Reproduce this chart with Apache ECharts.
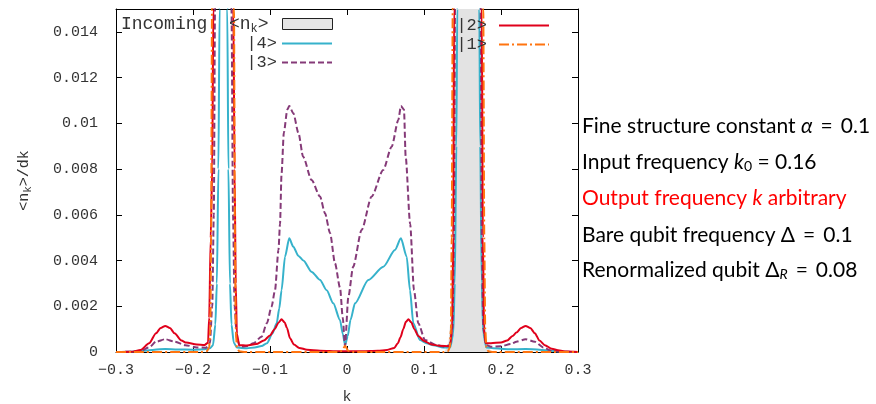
<!DOCTYPE html>
<html>
<head>
<meta charset="utf-8">
<script src="https://cdn.jsdelivr.net/npm/echarts@6/dist/echarts.min.js"></script>
<style>
  html, body { margin: 0; padding: 0; background: #fff; }
  #main { width: 876px; height: 404px; }
</style>
</head>
<body>
<div id="main"></div>
<script>
// [k, <n_k>/dk] pairs (peaks go off the top and get clipped)
var incoming = [
  [-0.3, 0], [0.126, 0], [0.131, 0.0003], [0.135, 0.0015], [0.138, 0.006], [0.141, 0.015],
  [0.144, 0.04], [0.150, 0.07], [0.157, 0.08], [0.164, 0.07], [0.170, 0.04], [0.173, 0.015],
  [0.176, 0.006], [0.179, 0.0015], [0.183, 0.0003], [0.188, 0], [0.3, 0]
];

var state4 = [
  [-0.3, 0], [-0.28, 0.00001], [-0.265, 0.00005], [-0.25, 0.0001], [-0.236, 0.00013], [-0.22, 0.00011],
  [-0.2, 0.0001], [-0.185, 0.00012], [-0.178, 0.00016], [-0.174, 0.0003], [-0.171, 0.0012], [-0.169, 0.003],
  [-0.167, 0.008], [-0.1655, 0.015], [-0.164, 0.025], [-0.161, 0.04], [-0.157, 0.025], [-0.1555, 0.015],
  [-0.154, 0.008], [-0.152, 0.003], [-0.150, 0.0012], [-0.147, 0.0004], [-0.143, 0.0002], [-0.13, 0.00016],
  [-0.12, 0.0002], [-0.111, 0.00026], [-0.104, 0.00038], [-0.097, 0.0008], [-0.0913, 0.00126], [-0.088, 0.0019],
  [-0.085, 0.0027], [-0.0805, 0.00417], [-0.075, 0.00497], [-0.0697, 0.0046], [-0.063, 0.0042], [-0.0567, 0.004],
  [-0.0458, 0.0035], [-0.035, 0.00315], [-0.0264, 0.0027], [-0.0178, 0.00213], [-0.0091, 0.0014], [-0.0055, 0.0008],
  [-0.0025, 0.0003], [0.001, 0.0007], [0.0045, 0.0014], [0.0104, 0.00213], [0.0277, 0.00315], [0.0472, 0.00373],
  [0.0623, 0.00446], [0.070, 0.00497], [0.0775, 0.00417], [0.0818, 0.0027], [0.0861, 0.00126], [0.0948, 0.00052],
  [0.1035, 0.00038], [0.1121, 0.0003], [0.125, 0.0002], [0.134, 0.0002], [0.138, 0.0008], [0.140, 0.003],
  [0.142, 0.009], [0.1432, 0.015], [0.146, 0.03], [0.157, 0.05], [0.168, 0.03], [0.1718, 0.015],
  [0.173, 0.009], [0.175, 0.003], [0.177, 0.0008], [0.181, 0.0002], [0.19, 0.00016], [0.21, 0.00012],
  [0.232, 0.00013], [0.25, 0.0001], [0.265, 0.00005], [0.28, 0.00001], [0.3, 0]
];

var state3 = [
  [-0.3, 0], [-0.28, 0.00001], [-0.268, 0.00005], [-0.257, 0.0002], [-0.248, 0.00045], [-0.236, 0.00056],
  [-0.224, 0.00045], [-0.21, 0.0003], [-0.195, 0.0002], [-0.183, 0.00019], [-0.178, 0.0004], [-0.175, 0.002],
  [-0.173, 0.006], [-0.1714, 0.015], [-0.168, 0.03], [-0.161, 0.05], [-0.154, 0.03], [-0.150, 0.015],
  [-0.148, 0.006], [-0.146, 0.002], [-0.143, 0.0006], [-0.139, 0.00023], [-0.13, 0.00026], [-0.1216, 0.00038],
  [-0.111, 0.00067], [-0.104, 0.00126], [-0.098, 0.00198], [-0.0935, 0.0027], [-0.089, 0.00446], [-0.087, 0.0056],
  [-0.085, 0.0078], [-0.082, 0.0096], [-0.0775, 0.0106], [-0.075, 0.01076], [-0.0697, 0.01044], [-0.063, 0.00957],
  [-0.057, 0.00854], [-0.046, 0.00752], [-0.035, 0.0068], [-0.0286, 0.00607], [-0.022, 0.0052], [-0.0156, 0.00388],
  [-0.009, 0.0028], [-0.0055, 0.0015], [-0.0026, 0.00025], [0.0017, 0.0024], [0.008, 0.00373], [0.019, 0.00534],
  [0.032, 0.0068], [0.047, 0.00796], [0.058, 0.00898], [0.0667, 0.01015], [0.070, 0.01076], [0.074, 0.0106],
  [0.0762, 0.00854], [0.082, 0.0056], [0.087, 0.0027], [0.0926, 0.00126], [0.1013, 0.00052], [0.1165, 0.0003],
  [0.127, 0.00023], [0.133, 0.0003], [0.137, 0.001], [0.139, 0.005], [0.1403, 0.015], [0.143, 0.03],
  [0.157, 0.05], [0.171, 0.03], [0.1736, 0.015], [0.175, 0.005], [0.177, 0.001], [0.181, 0.0003],
  [0.187, 0.00023], [0.2, 0.00025], [0.213, 0.00035], [0.22, 0.00045], [0.232, 0.00056], [0.244, 0.00045],
  [0.255, 0.0002], [0.265, 0.00006], [0.28, 0.00001], [0.3, 0]
];

var state2 = [
  [-0.3, 0], [-0.28, 0.00001], [-0.268, 0.00009], [-0.257, 0.00038], [-0.248, 0.00082], [-0.242, 0.00105],
  [-0.236, 0.00114], [-0.23, 0.00105], [-0.224, 0.00082], [-0.215, 0.0005], [-0.209, 0.00041], [-0.195, 0.00033],
  [-0.185, 0.00031], [-0.1805, 0.0004], [-0.179, 0.0015], [-0.177, 0.005], [-0.175, 0.0081], [-0.1736, 0.015],
  [-0.17, 0.03], [-0.161, 0.05], [-0.152, 0.03], [-0.1476, 0.015], [-0.146, 0.008], [-0.1445, 0.003],
  [-0.143, 0.0008], [-0.14, 0.0003], [-0.13, 0.00028], [-0.118, 0.00035], [-0.108, 0.0005], [-0.1, 0.00072],
  [-0.094, 0.001], [-0.089, 0.00128], [-0.085, 0.00143], [-0.081, 0.0013], [-0.078, 0.00105], [-0.074, 0.0006],
  [-0.069, 0.00033], [-0.062, 0.00018], [-0.052, 0.0001], [-0.035, 0.00006], [-0.01, 0.00003], [0.02, 0.00003],
  [0.04, 0.00005], [0.052, 0.00009], [0.0615, 0.00018], [0.066, 0.00038], [0.0695, 0.00065], [0.073, 0.001],
  [0.0765, 0.00132], [0.0797, 0.00143], [0.0835, 0.0013], [0.0875, 0.001], [0.0926, 0.0007], [0.1, 0.00048],
  [0.11, 0.00033], [0.12, 0.00027], [0.1338, 0.00025], [0.1365, 0.001], [0.138, 0.005], [0.139, 0.015],
  [0.143, 0.03], [0.157, 0.05], [0.171, 0.03], [0.175, 0.015], [0.1765, 0.005], [0.178, 0.001],
  [0.18, 0.00038], [0.187, 0.00038], [0.2, 0.00042], [0.208, 0.0005], [0.215, 0.0007], [0.22, 0.00085],
  [0.226, 0.00105], [0.232, 0.00114], [0.238, 0.00105], [0.244, 0.00082], [0.25, 0.0005], [0.257, 0.0003],
  [0.266, 0.00014], [0.274, 0.00008], [0.285, 0.00002], [0.3, 0]
];

var state1 = [
  [-0.3, 0], [-0.19, 0], [-0.182, 0.00003], [-0.179, 0.0002], [-0.1775, 0.001], [-0.1765, 0.005],
  [-0.1753, 0.015], [-0.171, 0.03], [-0.161, 0.05], [-0.151, 0.03], [-0.1468, 0.015], [-0.1455, 0.005],
  [-0.1445, 0.001], [-0.143, 0.0002], [-0.14, 0.00003], [-0.132, 0], [-0.011, 0], [-0.0065, 0.00006],
  [-0.0025, 0.00027], [0.0015, 0.00006], [0.006, 0], [0.125, 0], [0.131, 0.00003], [0.1335, 0.0002],
  [0.135, 0.001], [0.136, 0.005], [0.1373, 0.015], [0.141, 0.03], [0.157, 0.05], [0.173, 0.03],
  [0.177, 0.015], [0.1783, 0.005], [0.1795, 0.001], [0.181, 0.0002], [0.1835, 0.00003], [0.19, 0], [0.3, 0]
];

var notes = [
  'Fine structure constant {i|α} \u2009=\u2009 0.1',
  'Input frequency {i|k}{s|0} = 0.16',
  '{r|Output frequency }{ri|k}{r| arbitrary}',
  'Bare qubit frequency Δ \u2009=\u2009 0.1',
  'Renormalized qubit Δ{si|R} \u2009=\u2009 0.08'
];
var noteY = [126, 162, 198, 235, 270];

var mono = 'Liberation Mono';
var sans = 'Lato';

var chart = echarts.init(document.getElementById('main'));

function curve(name, data, color, dash) {
  return {
    name: name,
    type: 'line',
    data: data,
    symbol: 'none',
    smooth: 0.25,
    smoothMonotone: 'x',
    clip: true,
    lineStyle: { color: color, width: 2, type: dash || 'solid' },
    itemStyle: { color: color }
  };
}

function legendBox(name, right, top, gap, size) {
  return {
    data: [name],
    right: right,
    top: top,
    align: 'right',
    padding: 0,
    itemWidth: 50,
    itemHeight: 11,
    selectedMode: false,
    itemStyle: { opacity: 0 },
    formatter: function (n) {
      return n === 'Incoming' ? 'Incoming  <n{sub|k}>' : n;
    },
    textStyle: {
      fontFamily: mono,
      fontSize: size || 17,
      color: '#333',
      padding: [0, gap, 0, 0],
      rich: { sub: { fontFamily: mono, fontSize: 12, color: '#333', padding: [9, 0, 0, 0] } }
    }
  };
}

var richNote = {
  i: { fontFamily: sans, fontSize: 21, fontStyle: 'italic', fill: '#000' },
  s: { fontFamily: sans, fontSize: 14, padding: [9, 0, 0, 0], fill: '#000' },
  si: { fontFamily: sans, fontSize: 14, fontStyle: 'italic', padding: [9, 0, 0, 0], fill: '#000' },
  r: { fontFamily: sans, fontSize: 21, fill: '#ff0000' },
  ri: { fontFamily: sans, fontSize: 21, fontStyle: 'italic', fill: '#ff0000' }
};

var option = {
  animation: false,
  backgroundColor: '#fff',
  grid: { left: 116, right: 298, top: 9, bottom: 52, outerBoundsMode: 'none' },
  legend: [
    legendBox('Incoming', 543, 15, 9, 18),
    legendBox('|4>', 543, 35, 0),
    legendBox('|3>', 543, 54, 0),
    legendBox('|2>', 326, 17, 7),
    legendBox('|1>', 326, 36, 7)
  ],
  xAxis: [{
    type: 'value', min: -0.3, max: 0.3, interval: 0.1,
    name: 'k', nameLocation: 'middle', nameGap: 38,
    nameTextStyle: { fontFamily: mono, fontSize: 15, color: '#333' },
    axisLine: { onZero: false, lineStyle: { color: '#000', width: 1 } },
    axisTick: { inside: true, length: 6, lineStyle: { color: '#000' } },
    splitLine: { show: false },
    axisLabel: {
      margin: 11, fontFamily: mono, fontSize: 15, color: '#333',
      formatter: function (v) {
        if (Math.abs(v) < 1e-9) return '0';
        return (v < 0 ? '\u2212' : '') + Math.abs(v).toFixed(1);
      }
    }
  }, {
    type: 'value', position: 'top', min: -0.3, max: 0.3, interval: 0.1,
    axisLine: { onZero: false, lineStyle: { color: '#000', width: 1 } },
    axisTick: { inside: true, length: 6, lineStyle: { color: '#000' } },
    axisLabel: { show: false },
    splitLine: { show: false }
  }],
  yAxis: [{
    type: 'value', min: 0, max: 0.015, interval: 0.002,
    name: '<n{sub|k}>/dk', nameLocation: 'middle', nameGap: 82, nameRotate: 90,
    nameTextStyle: {
      fontFamily: mono, fontSize: 15, color: '#333',
      rich: { sub: { fontFamily: mono, fontSize: 11, color: '#333', padding: [8, 0, 0, 0] } }
    },
    axisLine: { show: true, onZero: false, lineStyle: { color: '#000', width: 1 } },
    axisTick: { inside: true, length: 6, lineStyle: { color: '#000' } },
    splitLine: { show: false },
    axisLabel: { margin: 18, fontFamily: mono, fontSize: 15, color: '#333', showMaxLabel: false }
  }, {
    type: 'value', position: 'right', min: 0, max: 0.015, interval: 0.002,
    axisLine: { show: true, onZero: false, lineStyle: { color: '#000', width: 1 } },
    axisTick: { inside: true, length: 6, lineStyle: { color: '#000' } },
    axisLabel: { show: false },
    splitLine: { show: false }
  }],
  graphic: notes.map(function (t, i) {
    return {
      type: 'text',
      x: 582,
      y: noteY[i],
      style: {
        text: t,
        fontFamily: sans,
        fontSize: 21,
        fill: '#000',
        verticalAlign: 'middle',
        rich: richNote
      }
    };
  }),
  series: [
    {
      name: 'Incoming',
      type: 'line',
      data: incoming,
      symbol: 'none',
      smooth: 0.25,
      smoothMonotone: 'x',
      clip: true,
      lineStyle: { width: 0, color: '#555' },
      itemStyle: { color: '#e5e5e5', borderColor: '#222', borderWidth: 1 },
      areaStyle: { color: '#e3e3e3', opacity: 1 }
    },
    curve('|4>', state4, '#36b2cb'),
    curve('|3>', state3, '#853a78', [6, 3]),
    curve('|2>', state2, '#e0001b'),
    curve('|1>', state1, '#ff7410', [10, 3, 2, 3])
  ]
};

// legend sample for incoming: grey box with dark border
option.legend[0].data = [{ name: 'Incoming', icon: 'rect', itemStyle: { color: '#e5e5e5', borderColor: '#222', borderWidth: 1, opacity: 1 } }];

chart.setOption(option);
</script>
</body>
</html>
